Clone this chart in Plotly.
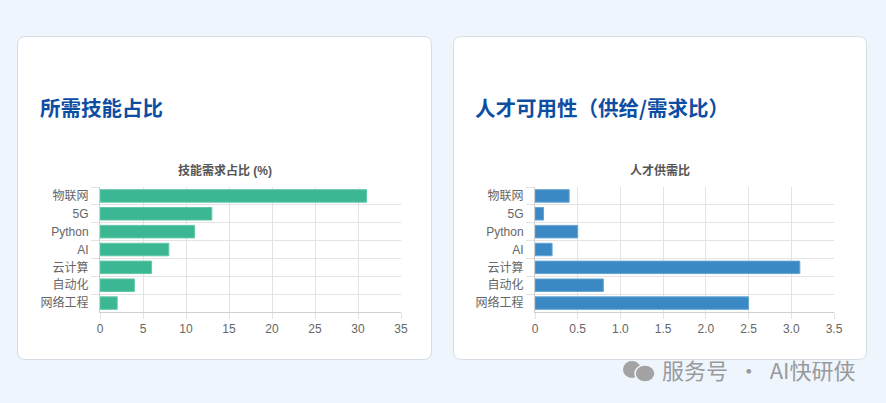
import plotly.graph_objects as go

W, H = 886, 403

categories = ["物联网", "5G", "Python", "AI", "云计算", "自动化", "网络工程"]
skill_share = [31, 13, 11, 8, 6, 4, 2]
supply_ratio = [0.4, 0.1, 0.5, 0.2, 3.1, 0.8, 2.5]

x1_ticks = [0, 5, 10, 15, 20, 25, 30, 35]
x2_ticks = [0, 0.5, 1.0, 1.5, 2.0, 2.5, 3.0, 3.5]
x2_ticktext = ["0", "0.5", "1.0", "1.5", "2.0", "2.5", "3.0", "3.5"]

card_titles = ["所需技能占比", "人才可用性（供给/需求比）"]
chart_titles = ["技能需求占比 (%)", "人才供需比"]
watermark = "服务号 · AI快研侠"

FONT = "Liberation Sans, Noto Sans CJK SC, sans-serif"
CJK = "Noto Sans CJK SC, sans-serif"
GRID = "#e3e3e3"
AXIS = "#cfcfcf"
BG = "#eef5fd"


def px(x):
    return x / W


def py(y):
    return 1 - y / H


def rounded(x0, y0, x1, y1, r):
    X0, X1 = px(x0), px(x1)
    Y0, Y1 = py(y0), py(y1)
    rx, ry = r / W, r / H
    return (f"M {X0+rx} {Y0} L {X1-rx} {Y0} Q {X1} {Y0} {X1} {Y0-ry} "
            f"L {X1} {Y1+ry} Q {X1} {Y1} {X1-rx} {Y1} L {X0+rx} {Y1} "
            f"Q {X0} {Y1} {X0} {Y1+ry} L {X0} {Y0-ry} Q {X0} {Y0} {X0+rx} {Y0} Z")


fig = go.Figure()
fig.add_trace(go.Bar(
    x=skill_share, y=categories, orientation="h",
    marker=dict(color="#3bb794", line=dict(color="#62c7a8", width=1)),
    xaxis="x", yaxis="y", hoverinfo="x+y",
))
fig.add_trace(go.Bar(
    x=supply_ratio, y=categories, orientation="h",
    marker=dict(color="#3a89c4", line=dict(color="#66a5d4", width=1)),
    xaxis="x2", yaxis="y2", hoverinfo="x+y",
))

ydom = [py(312), py(187)]
common_x = dict(showgrid=True, gridcolor=GRID, gridwidth=1, zeroline=False,
                showline=True, linecolor=AXIS, ticks="outside", ticklen=6,
                tickcolor=GRID, tickfont=dict(family=FONT, size=12, color="#666"),
                fixedrange=True, automargin=False)
common_y = dict(type="category", autorange="reversed", showgrid=True,
                gridcolor=GRID, tickson="boundaries", showline=True, linecolor=AXIS,
                ticks="outside", ticklen=8, tickcolor=GRID, ticklabelstandoff=8,
                tickfont=dict(family=FONT, size=12, color="#666"),
                domain=ydom, fixedrange=True, mirror=False, automargin=False)

fig.update_layout(
    template="none",
    width=W, height=H, autosize=False,
    margin=dict(l=0, r=0, t=0, b=0, pad=0, autoexpand=False),
    paper_bgcolor=BG, plot_bgcolor="rgba(0,0,0,0)",
    showlegend=False, bargap=0.3,
    xaxis=dict(domain=[px(100), px(401)], range=[0, 35], tickvals=x1_ticks,
               anchor="y", **common_x),
    yaxis=dict(anchor="x", **common_y),
    xaxis2=dict(domain=[px(535), px(834)], range=[0, 3.5], tickvals=x2_ticks,
                ticktext=x2_ticktext, anchor="y2", **common_x),
    yaxis2=dict(anchor="x2", **common_y),
    font=dict(family=FONT),
)

shapes = []
for (x0, x1) in [(17.5, 431.5), (453.5, 866.5)]:
    shapes.append(dict(type="path", xref="paper", yref="paper",
                       path=rounded(x0, 36.5, x1, 359.5, 8),
                       fillcolor="#ffffff", line=dict(color="#d6dce4", width=1),
                       layer="below"))
shapes.append(dict(type="circle", xref="paper", yref="paper",
                   x0=px(623), x1=px(641), y0=py(378), y1=py(361),
                   fillcolor="#a3a3a3", line=dict(width=0)))
shapes.append(dict(type="circle", xref="paper", yref="paper",
                   x0=px(635), x1=px(655), y0=py(382), y1=py(365),
                   fillcolor="#a3a3a3", line=dict(color=BG, width=1.5)))
fig.update_layout(shapes=shapes)

annotations = []
for xl, t in zip([38, 473], card_titles):
    annotations.append(dict(text=f"<b>{t}</b>", x=px(xl), y=py(107), xref="paper", yref="paper",
                            xanchor="left", yanchor="middle", showarrow=False,
                            font=dict(family=CJK, size=20.5, color="#0d4ea3")))
for xc, t in zip([225, 660], chart_titles):
    annotations.append(dict(text=f"<b>{t}</b>", x=px(xc), y=py(170), xref="paper", yref="paper",
                            xanchor="center", yanchor="middle", showarrow=False,
                            font=dict(family=FONT, size=12, color="#555")))
annotations.append(dict(text=watermark.replace(" ", "\u00a0\u00a0"), x=px(660), y=py(369),
                        xref="paper", yref="paper",
                        xanchor="left", yanchor="middle", showarrow=False,
                        font=dict(family=CJK, size=22, color="#9a9a9a")))
fig.update_layout(annotations=annotations)

post = f"""
var s = document.createElement('style');
s.textContent = 'html,body{{margin:0!important;padding:0!important;width:{W}px;height:{H}px;overflow:hidden;background:{BG};}}'
  + 'body>div{{width:{W}px;height:{H}px;overflow:hidden;line-height:0;}}';
document.head.appendChild(s);
"""

fig.write_html("out.html", config={"displayModeBar": False}, post_script=post)
